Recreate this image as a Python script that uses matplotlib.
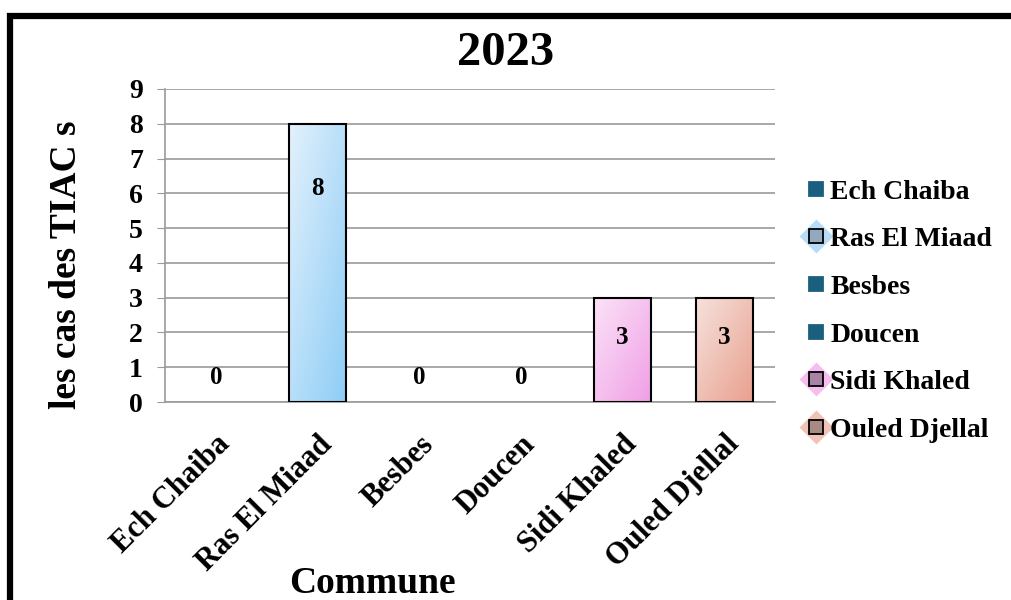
import matplotlib.pyplot as plt
import numpy as np
from matplotlib.colors import LinearSegmentedColormap
from matplotlib.lines import Line2D
from matplotlib.patches import Rectangle
from matplotlib.legend_handler import HandlerTuple

communes = ["Ech Chaiba", "Ras El Miaad", "Besbes", "Doucen", "Sidi Khaled", "Ouled Djellal"]
cases = [0, 8, 0, 0, 3, 3]
year = "2023"

# gradient colours per bar (light, dark), legend colours
grad_light = ["#dfeefa", "#e3f1fc", "#dfeefa", "#dfeefa", "#fbe3f7", "#f6e2dc"]
grad_dark = ["#8ecdf6", "#8ecdf6", "#8ecdf6", "#8ecdf6", "#f09fe6", "#e9a08f"]
legend_sq = ["#1b5f80", "#92a9c0", "#1b5f80", "#1b5f80", "#a784a6", "#a88a84"]
legend_dia = [None, "#b8dcf7", None, None, "#f6bdee", "#f1c2b6"]
label_y = [0.7, 6.15, 0.7, 0.7, 1.85, 1.85]

plt.rcParams['font.family'] = ['Liberation Serif', 'DejaVu Serif']
plt.rcParams['font.weight'] = 'bold'

fig = plt.figure(figsize=(10.11, 6.0), dpi=100)
ax = fig.add_axes([0.1632, 0.33, 0.6034, 0.5217])

x = np.arange(len(communes))
bars = ax.bar(x, cases, width=0.56, color='none', edgecolor='black', linewidth=1.5, zorder=3)

# diagonal gradient fill clipped to each bar
gy, gx = np.mgrid[0:1:100j, 0:1:100j]
grad = (gx + gy) / 2
for i, b in enumerate(bars):
    if cases[i] == 0:
        b.set_edgecolor('none')
        continue
    cmap = LinearSegmentedColormap.from_list("g%d" % i, [grad_light[i], grad_dark[i]])
    x0, y0 = b.get_x(), b.get_y()
    im = ax.imshow(grad, cmap=cmap, extent=[x0, x0 + b.get_width(), y0, y0 + b.get_height()],
                   origin='upper', aspect='auto', zorder=2, interpolation='bilinear')
    im.set_clip_path(b)

for i, v in enumerate(cases):
    ax.text(x[i], label_y[i], str(v), ha='center', va='center', fontsize=18, fontweight='bold', zorder=4)

ax.set_xlim(-0.5, len(communes) - 0.5)
ax.set_ylim(0, 9)
ax.set_yticks(range(0, 10))
ax.yaxis.grid(True, color='#9a9a9a', linewidth=1.2, zorder=0)
ax.set_axisbelow(True)
for s in ['top', 'right']:
    ax.spines[s].set_visible(False)
ax.spines['left'].set_color('#9a9a9a')
ax.spines['bottom'].set_color('#9a9a9a')
ax.spines['left'].set_linewidth(1.2)
ax.spines['bottom'].set_linewidth(1.2)
ax.tick_params(axis='y', length=6, color='#9a9a9a', labelsize=20, pad=10)
ax.tick_params(axis='x', length=0, labelsize=22, pad=20)
ax.set_xticks(x)
ax.set_xticklabels(communes, rotation=45, ha='right', rotation_mode='anchor', fontweight='bold')
for t in ax.get_yticklabels():
    t.set_fontweight('bold')

fig.text(0.066, 0.558, "les cas des TIAC s", rotation=90, ha='center', va='center',
         fontsize=27, fontweight='bold')
fig.text(0.5, 0.912, year, ha='center', va='center', fontsize=35, fontweight='bold')
fig.text(0.368, 0.027, "Commune", ha='center', va='center', fontsize=27, fontweight='bold')

handles = []
for i in range(len(communes)):
    sq = Line2D([], [], marker='s', linestyle='none', markersize=10,
                markerfacecolor=legend_sq[i],
                markeredgecolor='black' if legend_dia[i] else legend_sq[i], markeredgewidth=1.3)
    if legend_dia[i]:
        dia = Line2D([], [], marker='D', linestyle='none', markersize=17,
                     markerfacecolor=legend_dia[i], markeredgecolor='none')
        handles.append((dia, sq))
    else:
        handles.append(sq)
fig.legend(handles, communes, loc='upper left', bbox_to_anchor=(0.787, 0.72), frameon=False,
           handler_map={tuple: HandlerTuple(ndivide=1)}, prop={'size': 20, 'weight': 'bold'},
           labelspacing=0.8, handlelength=0.7, handletextpad=0.15, borderaxespad=0)

# thick outer frame running off the right and bottom edges
fig.patches.append(Rectangle((0.01, -0.1), 1.1, 0.875 + 0.1 + 0.099, transform=fig.transFigure,
                             fill=False, edgecolor='black', linewidth=4.5, clip_on=False))

fig.savefig("out.png", dpi=100)
